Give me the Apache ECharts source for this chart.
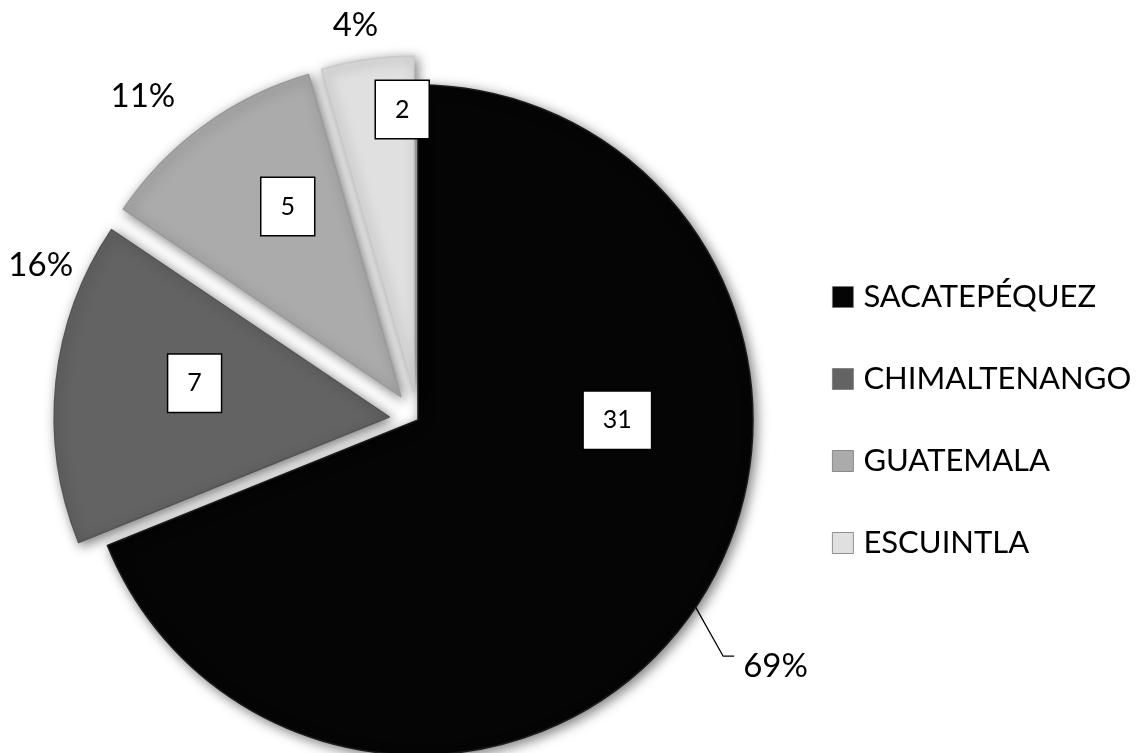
<!DOCTYPE html>
<html>
<head>
<meta charset="utf-8">
<script src="https://cdn.jsdelivr.net/npm/echarts@6/dist/echarts.min.js"></script>
<style>
  html, body { margin: 0; padding: 0; background: #ffffff; }
  #chart { width: 1143px; height: 753px; }
</style>
</head>
<body>
<div id="chart"></div>
<script>
// Responses per department
const departments = ['SACATEPÉQUEZ', 'CHIMALTENANGO', 'GUATEMALA', 'ESCUINTLA'];
const counts = [31, 7, 5, 2];
// Slices pulled out of the pie
const pulledOut = [false, true, true, true];

// Styling / layout configuration
const sliceColors = ['#050505', '#636363', '#ababab', '#e0e0e0'];
const sliceEdges = ['#1c1c1c', '#555555', '#9a9a9a', '#cacaca'];
const valueLabelShift = [[58, -95], [-25, -16], [-13, -52], [12, -113]];
const percentLabelShift = [[20, 51], [47, -115], [-5, -17], [28, -19]];
const showLeader = [true, false, false, false];

const FONT = 'Lato, "Open Sans", sans-serif';
const PIE_CENTER = [418, 420];
const PIE_RADIUS = 335;
const PULL = 29;

const chart = echarts.init(document.getElementById('chart'), null, { renderer: 'canvas' });

const pieBase = {
  type: 'pie',
  center: PIE_CENTER,
  radius: PIE_RADIUS,
  startAngle: 90,
  clockwise: true,
  selectedMode: 'multiple',
  selectedOffset: PULL,
  avoidLabelOverlap: false,
  emphasis: { disabled: true, scale: false },
  animation: false
};

const option = {
  backgroundColor: '#ffffff',
  animation: false,
  legend: {
    orient: 'vertical',
    left: 832,
    top: 279,
    padding: 0,
    itemWidth: 21,
    itemHeight: 21,
    itemGap: 46,
    icon: 'rect',
    selectedMode: false,
    data: departments,
    itemStyle: { shadowBlur: 0, borderWidth: 0.8, borderColor: '#777' },
    textStyle: {
      fontFamily: FONT,
      fontSize: 31,
      lineHeight: 36,
      color: '#000',
      padding: [0, 0, 0, 5]
    }
  },
  series: [
    Object.assign({}, pieBase, {
      name: 'Departamento',
      itemStyle: {
        borderWidth: 1.5,
        shadowBlur: 12,
        shadowColor: 'rgba(0,0,0,0.5)',
        shadowOffsetX: 3,
        shadowOffsetY: 3
      },
      label: {
        show: true,
        position: 'inside',
        formatter: '{c}',
        fontFamily: FONT,
        fontSize: 25,
        color: '#000',
        backgroundColor: '#ffffff',
        borderColor: '#000',
        borderWidth: 1.5,
        padding: [17, 19, 15, 19]
      },
      labelLine: { show: false },
      labelLayout: function (p) {
        const s = valueLabelShift[p.dataIndex];
        return { dx: s[0], dy: s[1] };
      },
      data: departments.map(function (name, i) {
        return {
          name: name,
          value: counts[i],
          selected: pulledOut[i],
          itemStyle: { color: sliceColors[i], borderColor: sliceEdges[i] },
          select: { itemStyle: { color: sliceColors[i], borderColor: sliceEdges[i], borderWidth: 1.5 } }
        };
      })
    }),
    Object.assign({}, pieBase, {
      name: 'Porcentaje',
      silent: true,
      itemStyle: { color: 'rgba(0,0,0,0)', borderWidth: 0 },
      select: { itemStyle: { color: 'rgba(0,0,0,0)', borderWidth: 0 } },
      label: {
        show: true,
        position: 'outside',
        formatter: function (p) { return Math.round(p.percent) + '%'; },
        fontFamily: FONT,
        fontSize: 33,
        color: '#000',
        overflow: 'none'
      },
      labelLine: {
        show: true,
        length: 15,
        length2: 10,
        lineStyle: { color: '#000', width: 1.3 }
      },
      labelLayout: function (p) {
        const s = percentLabelShift[p.dataIndex];
        const out = { dx: s[0], dy: s[1] };
        if (showLeader[p.dataIndex] && p.labelLinePoints) {
          const left = p.labelRect.x + s[0];
          const top = p.labelRect.y + s[1];
          out.labelLinePoints = [
            p.labelLinePoints[0],
            [left - 20, top + 6],
            [left - 9, top + 6]
          ];
        }
        return out;
      },
      data: departments.map(function (name, i) {
        return {
          name: name,
          value: counts[i],
          selected: pulledOut[i],
          labelLine: { show: showLeader[i] }
        };
      })
    })
  ]
};

chart.setOption(option);
</script>
</body>
</html>
